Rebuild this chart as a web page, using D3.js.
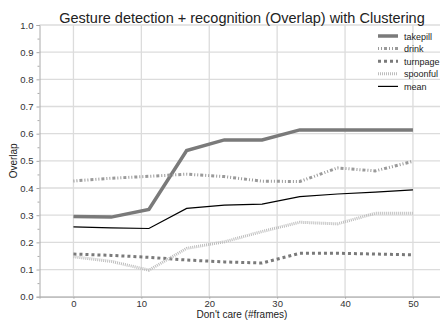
<!DOCTYPE html>
<html lang="en">
<head>
<meta charset="UTF-8">
<title>Gesture detection + recognition</title>
<script src="https://d3js.org/d3.v7.min.js"></script>
<style>
  body { margin: 0; background: #fff; }
  svg { font-family: "Liberation Sans", Arial, sans-serif; display: block; }
</style>
</head>
<body>
<script>
// frames (10 evenly spaced points 0..50)
const frames = [0, 5.56, 11.11, 16.67, 22.22, 27.78, 33.33, 38.89, 44.44, 50];
const takepill = [0.295, 0.293, 0.321, 0.538, 0.577, 0.577, 0.614, 0.614, 0.614, 0.614];
const drink    = [0.426, 0.436, 0.443, 0.451, 0.442, 0.425, 0.424, 0.474, 0.463, 0.498];
const turnpage = [0.157, 0.152, 0.145, 0.135, 0.128, 0.124, 0.160, 0.160, 0.157, 0.154];
const spoonful = [0.147, 0.130, 0.098, 0.178, 0.202, 0.240, 0.274, 0.268, 0.307, 0.307];
const mean     = [0.257, 0.253, 0.251, 0.325, 0.337, 0.341, 0.368, 0.378, 0.385, 0.393];
const xTicks = [0, 10, 20, 30, 40, 50];
const yTicks = [0, 0.1, 0.2, 0.3, 0.4, 0.5, 0.6, 0.7, 0.8, 0.9, 1.0];

const series = [
  { name: "takepill", values: takepill, color: "#7a7a7a", width: 3.5, dash: null },
  { name: "drink", values: drink, color: "#9a9a9a", width: 3, dash: "1,2,1,2,3,2" },
  { name: "turnpage", values: turnpage, color: "#7a7a7a", width: 3, dash: "3,3" },
  { name: "spoonful", values: spoonful, color: "#bdbdbd", width: 3, dash: "1,1" },
  { name: "mean", values: mean, color: "#000", width: 1.2, dash: null }
];

const width = 440, height = 320;
const svg = d3.select("body").append("svg")
  .attr("width", width).attr("height", height);

const x = d3.scaleLinear().domain([-5, 55]).range([39.5, 446.9]);
const y = d3.scaleLinear().domain([0, 1]).range([296.7, 25]);

// grid
svg.append("g").selectAll("line").data(xTicks).join("line")
  .attr("x1", d => x(d)).attr("x2", d => x(d))
  .attr("y1", y(1)).attr("y2", y(0))
  .attr("stroke", "#dcdcdc").attr("stroke-width", 1.3);
svg.append("g").selectAll("line").data(yTicks).join("line")
  .attr("x1", x(-5)).attr("x2", width)
  .attr("y1", d => y(d)).attr("y2", d => y(d))
  .attr("stroke", "#dcdcdc").attr("stroke-width", 1.3);

// axes
svg.append("g").attr("transform", `translate(${x(-5)},0)`)
  .call(d3.axisLeft(y).tickValues(yTicks).tickFormat(d3.format(".1f")).tickSize(3).tickPadding(3));
svg.append("g").attr("transform", `translate(${x(-5)},0)`)
  .call(d3.axisLeft(y).tickValues(d3.range(0.05, 1, 0.1)).tickFormat("").tickSize(2))
  .call(g => g.select(".domain").remove());
svg.append("g").attr("transform", `translate(0,${y(0)})`)
  .call(d3.axisBottom(x).tickValues(xTicks).tickSize(2).tickPadding(2));
svg.selectAll(".domain").attr("stroke", "#aaa");
svg.selectAll(".tick line").attr("stroke", "#aaa");
svg.selectAll(".tick text").attr("fill", "#333").style("font-size", "9.5px")
  .style("font-family", "'Liberation Sans', Arial, sans-serif");

// lines
const line = d3.line().x((d, i) => x(frames[i])).y(d => y(d));
svg.append("g").selectAll("path").data(series).join("path")
  .attr("d", d => line(d.values))
  .attr("fill", "none")
  .attr("stroke", d => d.color)
  .attr("stroke-width", d => d.width)
  .attr("stroke-dasharray", d => d.dash);

// title & labels
svg.append("text").attr("x", 242).attr("y", 23).attr("text-anchor", "middle")
  .style("font-size", "14.5px").attr("fill", "#222")
  .text("Gesture detection + recognition (Overlap) with Clustering");
svg.append("text").attr("x", 242).attr("y", 318).attr("text-anchor", "middle")
  .style("font-size", "10px").attr("fill", "#222").text("Don't care (#frames)");
svg.append("text").attr("transform", `translate(17,${y(0.5)}) rotate(-90)`)
  .attr("text-anchor", "middle").style("font-size", "10px").attr("fill", "#222").text("Overlap");

// legend
const legend = svg.append("g").selectAll("g").data(series).join("g")
  .attr("transform", (d, i) => `translate(378,${36 + i * 12.6})`);
legend.append("line").attr("x1", 0).attr("x2", 20)
  .attr("stroke", d => d.color)
  .attr("stroke-width", d => d.width)
  .attr("stroke-dasharray", d => d.dash);
legend.append("text").attr("x", 26).attr("y", 3.5)
  .style("font-size", "9px").attr("fill", "#222").text(d => d.name);
</script>
</body>
</html>
